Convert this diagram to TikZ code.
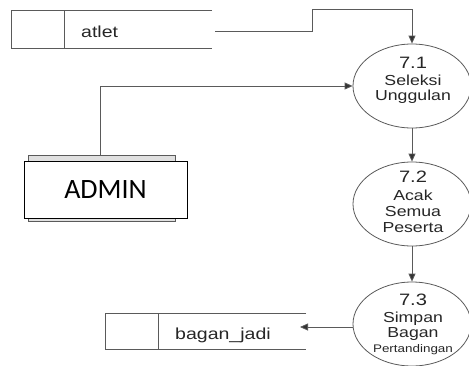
\documentclass[tikz,border=0pt]{standalone}
\usepackage{fontspec}
\setmainfont{Liberation Sans}
\newfontfamily\widesans[FakeStretch=1.22]{Liberation Sans}
\newfontfamily\calibrilike{Carlito}
\usetikzlibrary{shapes.geometric,arrows.meta}
\definecolor{lineg}{HTML}{5A5A5A}
\tikzset{
  flow/.style={draw=lineg, line width=0.8pt, -{Triangle[length=8pt,width=7pt,fill=black!80]}},
  proc/.style={draw=lineg, line width=0.8pt, ellipse, minimum width=118pt, minimum height=84pt, inner sep=0pt},
  pnum/.style={anchor=base, inner sep=0pt, text=black!85, font=\widesans\fontsize{16.5}{19}\selectfont},
  pline/.style={anchor=base, inner sep=0pt, text=black!85, font=\widesans\fontsize{14.5}{16}\selectfont},
  psmall/.style={anchor=base, inner sep=0pt, text=black!85, font=\widesans\fontsize{11}{13}\selectfont},
  slabel/.style={anchor=base west, inner sep=0pt, text=black!85, font=\widesans\fontsize{16}{18}\selectfont},
  storeline/.style={draw=lineg, line width=0.8pt}
}
\begin{document}
\begin{tikzpicture}[x=1pt,y=-1pt]
\useasboundingbox (0,0) rectangle (469,365);

% data store: atlet
\draw[storeline] (212,10) -- (11,10) -- (11,48) -- (212,48);
\draw[storeline] (64,10) -- (64,48);
\node[slabel] (atlet) at (81,37) {atlet};
\coordinate (atletout) at (215,31);

% data store: bagan_jadi
\draw[storeline] (306,313) -- (105,313) -- (105,349) -- (306,349);
\draw[storeline] (158,313) -- (158,349);
\node[slabel] (bagan) at (175,339) {bagan\_jadi};
\coordinate (baganin) at (300,327);

% external entity: ADMIN
\draw[draw=lineg, fill=black!12, line width=0.6pt] (28,155) rectangle (175,221);
\node[draw=black, fill=white, line width=1pt, minimum width=163pt, minimum height=57pt, inner sep=0pt,
      font=\calibrilike\fontsize{28}{30}\selectfont] (admin) at (105.5,189.5) {ADMIN};

% processes
\node[proc] (p1) at (412,86) {};
\node[proc] (p2) at (412,204) {};
\node[proc] (p3) at (412,324) {};

% process labels
\node[pnum]  (n1)  at (413,68)  {7.1};
\node[pline] (l1a) at (413,85)  {Seleksi};
\node[pline] (l1b) at (413,100) {Unggulan};

\node[pnum]  (n2)  at (413,182) {7.2};
\node[pline] (l2a) at (413,200) {Acak};
\node[pline] (l2b) at (413,216) {Semua};
\node[pline] (l2c) at (413,232) {Peserta};

\node[pnum]  (n3)  at (413,305) {7.3};
\node[pline] (l3a) at (413,322) {Simpan};
\node[pline] (l3b) at (413,337) {Bagan};
\node[psmall] (l3c) at (413,352) {Pertandingan};

% flows
\draw[flow] (atletout) -- (312,31) -- (312,9) -| (p1.north);
\draw[flow] (admin.north -| 100,0) ++(0,-6) |- (p1.west);
\draw[flow] (p1.south) -- (p2.north);
\draw[flow] (p2.south) -- (p3.north);
\draw[flow] (p3.west |- baganin) -- (baganin);
\end{tikzpicture}
\end{document}
